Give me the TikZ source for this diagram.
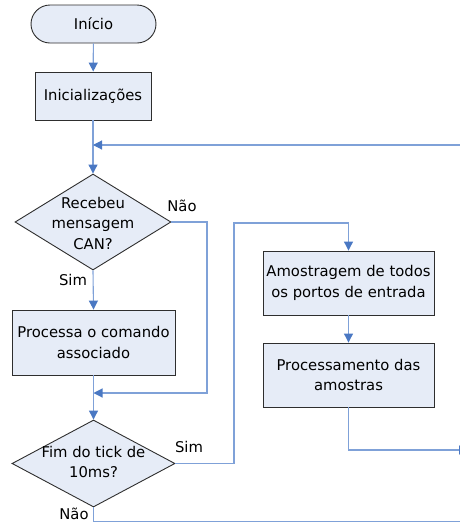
\documentclass[tikz,border=0pt]{standalone}
\usepackage{fontspec}
\setmainfont{DejaVu Sans}
\usetikzlibrary{shapes.geometric,arrows.meta,shadows}
\definecolor{boxfill}{HTML}{E6ECF7}
\definecolor{edge}{HTML}{2E2E2E}
\definecolor{conn}{HTML}{7FA1D8}
\definecolor{tipc}{HTML}{4A78C3}
\begin{document}
\begin{tikzpicture}[x=1pt,y=-1pt,
  every node/.style={font=\fontsize{14.8}{20.5}\selectfont, text=black},
  proc/.style={draw=edge, fill=boxfill, line width=0.9pt, rectangle, inner sep=0pt, align=center,
     drop shadow={shadow xshift=1.3pt, shadow yshift=-1.3pt, fill=gray!80, opacity=1}},
  term/.style={draw=edge, fill=boxfill, line width=0.9pt, rectangle, rounded corners=19pt, inner sep=0pt,
     minimum width=125pt, minimum height=38pt},
  dec/.style={draw=edge, fill=boxfill, line width=0.9pt, diamond, inner sep=0pt},
  txt/.style={inner sep=0pt, align=center},
  line/.style={draw=conn, line width=1.1pt},
  arr/.style={line, -{Triangle[length=9pt,width=9pt,color=tipc]}}
]
\useasboundingbox (0,0) rectangle (460,523);
\clip (0,0) rectangle (460,523);

\node[term] (start) at (93.5,24) {Início};
\node[proc, minimum width=116pt, minimum height=48pt] (init) at (93,96) {Inicializações};
\node[dec, minimum width=156pt, minimum height=96pt] (d1) at (93,222) {};
\node[txt] (d1t) at (93,223) {Recebeu\\mensagem\\CAN?};
\node[proc, minimum width=163pt, minimum height=65pt] (p1) at (93.5,342.5) {Processa o comando\\associado};
\node[dec, minimum width=163pt, minimum height=87pt] (d2) at (93.5,463.5) {};
\node[txt] (d2t) at (93.5,462) {Fim do tick de\\10ms?};
\node[proc, minimum width=171pt, minimum height=64pt] (s1) at (348.5,283) {Amostragem de todos\\os portos de entrada};
\node[proc, minimum width=171pt, minimum height=64pt] (s2) at (348.5,375) {Processamento das\\amostras};

\node[txt] (l1) at (182,206) {Não};
\node[txt] (l2) at (73,280) {Sim};
\node[txt] (l3) at (189,447) {Sim};
\node[txt] (l4) at (74,514) {Não};

\coordinate (loopin) at (470,145);
\coordinate (n1) at (207,393);
\coordinate (r1) at (234,223);
\coordinate (out1) at (468,450);
\coordinate (out2) at (470,521.5);

\draw[arr] (start) -- (init);
\draw[arr] (init.south) -- (d1.north);
\draw[arr] (loopin) -- (init.south |- loopin);
\draw[arr] (d1.south) -- (p1.north);
\draw[arr] (d1.east) -| (n1) -- (p1.south |- n1);
\draw[arr] (p1.south) -- (d2.north);
\draw[arr] (d2.east) -| (r1) -| (s1.north);
\draw[arr] (s1.south) -- (s2.north);
\draw[arr] (s2.south) |- (out1);
\draw[line] (d2.south) |- (out2);
\end{tikzpicture}
\end{document}
